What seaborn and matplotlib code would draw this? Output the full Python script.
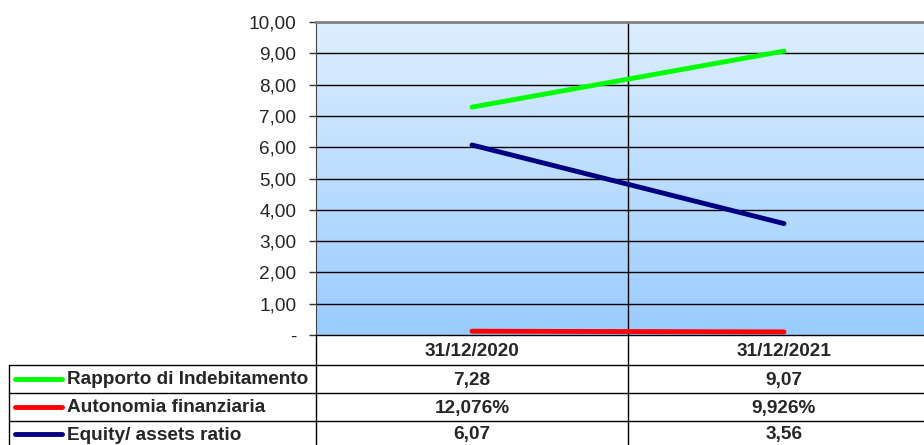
import numpy as np
import pandas as pd
import matplotlib
matplotlib.use("Agg")
import matplotlib.pyplot as plt
import matplotlib.ticker as mticker
from matplotlib.lines import Line2D
import seaborn as sns

# ---------------------------------------------------------------------------
# Data
# ---------------------------------------------------------------------------

DATES        = ["31/12/2020", "31/12/2021"]
SERIES       = ["Rapporto di Indebitamento", "Autonomia finanziaria", "Equity/ assets ratio"]
INDEBITAMENTO = [7.28, 9.07]
AUTONOMIA     = [0.12076, 0.09926]
EQUITY        = [6.07, 3.56]
CELL_TEXT = [
    ["7,28", "9,07"],
    ["12,076%", "9,926%"],
    ["6,07", "3,56"],
]
COLORS = ["#00FF00", "#FF0000", "#000080"]

W, H = 924, 445
FS = 13.7

# ---------------------------------------------------------------------------
# Style
# ---------------------------------------------------------------------------

sns.set_style("white")
plt.rcParams["font.family"] = ["Liberation Sans", "DejaVu Sans"]


def fx(x):
    return x / W


def fy(y):
    return 1 - y / H


df = pd.DataFrame({
    "date": DATES * 3,
    "x": [0, 1] * 3,
    "value": INDEBITAMENTO + AUTONOMIA + EQUITY,
    "series": [s for s in SERIES for _ in DATES],
})

fig = plt.figure(figsize=(W / 100, H / 100), dpi=100)
# plot area runs past the right edge of the picture, as in the original
L, T, R, B = 316, 22, 940, 335
ax = fig.add_axes([fx(L), fy(B), fx(R - L), (B - T) / H])

# gradient background, light at top
grad = np.linspace(0, 1, 256).reshape(-1, 1)
cmap = matplotlib.colors.LinearSegmentedColormap.from_list("bg", ["#DDEEFF", "#99CCFF"])
ax.imshow(grad, aspect="auto", cmap=cmap, extent=[0, 1, 0, 1],
          transform=ax.transAxes, zorder=0, origin="upper")

sns.lineplot(data=df, x="x", y="value", hue="series", palette=dict(zip(SERIES, COLORS)),
             linewidth=3.5, legend=False, ax=ax, zorder=3, solid_capstyle="round")

ax.set_xlim(-0.5, 1.5)
ax.set_ylim(0, 10)
ax.set_yticks(np.arange(0, 11, 1))
ax.yaxis.set_major_formatter(mticker.FuncFormatter(
    lambda v, _: "-" if v == 0 else f"{v:.2f}".replace(".", ",")))
ax.set_xticks([])
ax.set_xlabel("")
ax.set_ylabel("")
for v in range(1, 10):
    ax.axhline(v, color="black", linewidth=1, zorder=1)
ax.axvline(0.5, color="black", linewidth=1, zorder=1)
ax.tick_params(axis="y", direction="out", length=5, width=1, color="#333333",
               labelsize=FS, pad=9, left=True)
for side in ["left", "top"]:
    ax.spines[side].set_visible(True)
ax.spines["left"].set_color("#444444")
ax.spines["top"].set_color("#808080")
ax.spines["top"].set_linewidth(2)
ax.spines["right"].set_visible(False)
ax.spines["bottom"].set_visible(False)

# ---------------------------------------------------------------------------
# Data table below the chart
# ---------------------------------------------------------------------------

def hline(y, x0, x1, color="black"):
    fig.add_artist(Line2D([fx(x0), fx(x1)], [fy(y), fy(y)], color=color, linewidth=1))


def vline(x, y0, y1, color="black"):
    fig.add_artist(Line2D([fx(x), fx(x)], [fy(y0), fy(y1)], color=color, linewidth=1))


col_centers = [472, 784]
row_lines = [365, 393, 421]
hline(335, 316, 924)
for y in row_lines:
    hline(y, 9, 924)
vline(9, 365, 445)
vline(316, 335, 445)
vline(628, 335, 445)

for cx, d in zip(col_centers, DATES):
    fig.text(fx(cx), fy(351), d, ha="center", va="center", fontsize=FS, fontweight="bold")

row_centers = [380, 408, 435]
for i, (name, color) in enumerate(zip(SERIES, COLORS)):
    yc = row_centers[i]
    fig.add_artist(Line2D([fx(15), fx(62)], [fy(yc - 1), fy(yc - 1)], color=color,
                          linewidth=3.5, solid_capstyle="round"))
    fig.text(fx(67), fy(yc), name, ha="left", va="center", fontsize=FS, fontweight="bold")
    for cx, txt in zip(col_centers, CELL_TEXT[i]):
        fig.text(fx(cx), fy(yc), txt, ha="center", va="center", fontsize=FS, fontweight="bold")

fig.savefig("out.png", dpi=100)
